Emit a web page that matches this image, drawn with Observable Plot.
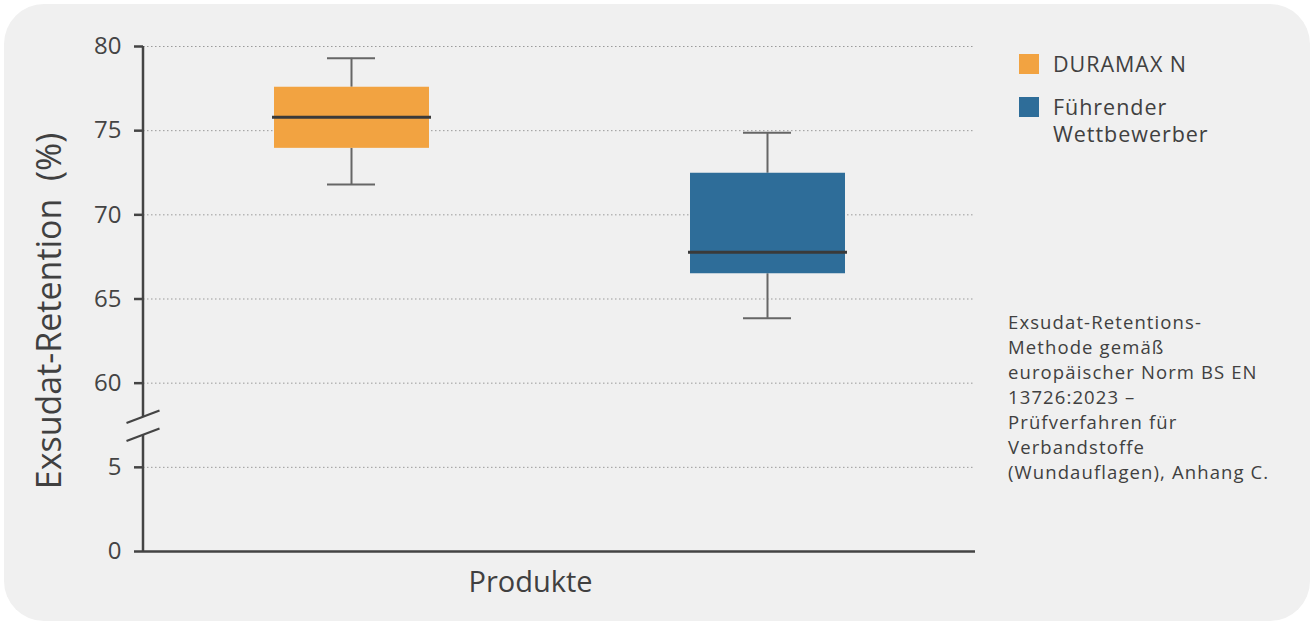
<!DOCTYPE html>
<html>
<head>
<meta charset="utf-8">
<script src="https://cdn.jsdelivr.net/npm/d3@7"></script>
<script src="https://cdn.jsdelivr.net/npm/@observablehq/plot@0.6"></script>
<style>
  html, body { margin: 0; padding: 0; background: #ffffff; }
  body { width: 1314px; height: 626px; position: relative; overflow: hidden; font-family: "Open Sans", Lato, sans-serif; color: #404040; }
  #card { position: absolute; left: 4px; top: 4px; width: 1306px; height: 617px; background: #f0f0f0; border-radius: 40px; }
  #chart { position: absolute; left: 0; top: 0; }
  .sw { position: absolute; left: 1019px; width: 20px; height: 20px; }
  .lbl { position: absolute; left: 1053px; height: 27px; font-size: 21.5px; line-height: 27px; color: #404040; white-space: nowrap; letter-spacing: 0.045em; }
  #note { position: absolute; left: 1008px; top: 309px; font-size: 18.5px; line-height: 25px; color: #404040; white-space: nowrap; letter-spacing: 0.06em; }
</style>
</head>
<body>
<div id="card"></div>
<div id="chart"></div>
<div id="legend"></div>
<div id="note"></div>
<script>
// ---- data ----
const categories = ["DURAMAX N", "Führender Wettbewerber"];
const legendLines = [["DURAMAX N"], ["Führender", "Wettbewerber"]];
const colors = ["#f2a341", "#2e6d99"];
const whiskerLow = [71.8, 63.85];
const q1 = [73.95, 66.5];
const median = [75.8, 67.78];
const q3 = [77.58, 72.47];
const whiskerHigh = [79.3, 74.88];
const tickValues = [0, 5, 60, 65, 70, 75, 80];
const noteLines = [
  "Exsudat-Retentions-",
  "Methode gemäß",
  "europäischer Norm BS EN",
  "13726:2023 –",
  "Prüfverfahren für",
  "Verbandstoffe",
  "(Wundauflagen), Anhang C."
];

// broken axis: 0..5 occupies one step, then 60..80 in steps of 5
function disp(v) { return v <= 5 ? v / 5 : 2 + (v - 60) / 5; }
const tickPos = tickValues.map(disp);
const breakPos = (disp(5) + disp(60)) / 2;

const boxes = categories.map((c, i) => ({
  cat: c,
  lo: disp(whiskerLow[i]), q1: disp(q1[i]), med: disp(median[i]),
  q3: disp(q3[i]), hi: disp(whiskerHigh[i])
}));

function axisLine(index, scales, values, dimensions) {
  const y = scales.y;
  const x0 = dimensions.marginLeft;
  const yb = y(breakPos);
  const g = d3.create("svg:g")
    .attr("stroke", "#444").attr("stroke-width", 2.5).attr("fill", "none");
  g.append("line").attr("x1", x0).attr("x2", x0).attr("y1", y(tickPos[tickPos.length - 1])).attr("y2", yb - 8);
  g.append("line").attr("x1", x0).attr("x2", x0).attr("y1", yb + 10).attr("y2", y(0));
  for (const off of [-8, 10]) {
    g.append("line")
      .attr("x1", x0 - 16.5).attr("y1", yb + off + 6.3)
      .attr("x2", x0 + 16.5).attr("y2", yb + off - 6.3)
      .attr("stroke-width", 2.2);
  }
  return g.node();
}

const plot = Plot.plot({
  width: 1000,
  height: 626,
  marginLeft: 143,
  marginRight: 25,
  marginTop: 46,
  marginBottom: 75,
  style: { background: "transparent", fontFamily: "'Open Sans', Lato, sans-serif", color: "#444" },
  x: { type: "band", domain: categories, paddingInner: 0, paddingOuter: 0, axis: null },
  y: { domain: [0, tickPos[tickPos.length - 1]], axis: null },
  color: { domain: categories, range: colors },
  marks: [
    Plot.gridY(tickPos.slice(1), { stroke: "#9a9a9a", strokeOpacity: 1, strokeWidth: 1, strokeDasharray: "1.5,2.5" }),
    Plot.axisY({ ticks: tickPos, tickFormat: (d, i) => tickValues[i], tickSize: 9, tickPadding: 13, fontSize: 24, stroke: "#444", strokeWidth: 2.5, fill: "#444", label: null }),
    Plot.ruleY([0], { stroke: "#444", strokeWidth: 2.5 }),
    axisLine,
    Plot.ruleX(boxes, { x: "cat", y1: "lo", y2: "q1", stroke: "#666", strokeWidth: 2 }),
    Plot.ruleX(boxes, { x: "cat", y1: "q3", y2: "hi", stroke: "#666", strokeWidth: 2 }),
    Plot.tickY(boxes, { x: "cat", y: "lo", stroke: "#666", strokeWidth: 2, inset: 184 }),
    Plot.tickY(boxes, { x: "cat", y: "hi", stroke: "#666", strokeWidth: 2, inset: 184 }),
    Plot.barY(boxes, { x: "cat", y1: "q1", y2: "q3", fill: "cat", insetLeft: 131, insetRight: 130 }),
    Plot.tickY(boxes, { x: "cat", y: "med", stroke: "#3a3a3a", strokeWidth: 3, insetLeft: 129, insetRight: 128 }),
    Plot.text(["Produkte"], { frameAnchor: "bottom", dx: -29, dy: 31, fontSize: 29, fill: "#404040", lineAnchor: "middle", style: "letter-spacing:0.02em" }),
    Plot.text(["Exsudat-Retention  (%)"], { frameAnchor: "left", rotate: -90, dx: -93, dy: 12, fontSize: 34, fill: "#404040", textAnchor: "middle", lineAnchor: "middle", style: "letter-spacing:0.055em" })
  ]
});
document.getElementById("chart").appendChild(plot);

// legend (HTML)
const legend = document.getElementById("legend");
const swatchTops = [54, 97];
categories.forEach((c, i) => {
  const sw = document.createElement("div");
  sw.className = "sw";
  sw.style.top = swatchTops[i] + "px";
  sw.style.background = colors[i];
  legend.appendChild(sw);
  legendLines[i].forEach((t, j) => {
    const l = document.createElement("div");
    l.className = "lbl";
    l.style.top = (swatchTops[i] - 4 + j * 27) + "px";
    l.textContent = t;
    legend.appendChild(l);
  });
});

document.getElementById("note").innerHTML = noteLines.join("<br>");
</script>
</body>
</html>
